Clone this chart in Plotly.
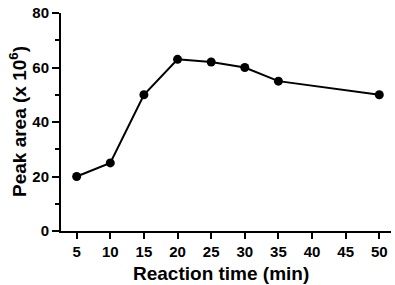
import plotly.graph_objects as go

reaction_time = [5, 10, 15, 20, 25, 30, 35, 50]
peak_area = [20, 25, 50, 63, 62, 60, 55, 50]
x_ticks = [5, 10, 15, 20, 25, 30, 35, 40, 45, 50]
y_ticks = [0, 20, 40, 60, 80]

fig = go.Figure()
fig.add_trace(go.Scatter(
    x=reaction_time, y=peak_area, mode="lines+markers",
    line=dict(color="black", width=2),
    marker=dict(color="black", size=9),
    showlegend=False,
))

font_family = "Liberation Sans, Arial, sans-serif"
fig.update_layout(
    width=395, height=285,
    margin=dict(l=61, r=4, t=11, b=54),
    paper_bgcolor="white", plot_bgcolor="white",
    font=dict(family=font_family, color="black"),
    xaxis=dict(
        range=[2.67, 51.74], tickvals=x_ticks, ticktext=[str(v) for v in x_ticks],
        showgrid=False, zeroline=False, showline=True, linecolor="black", linewidth=2,
        ticks="outside", ticklen=6, tickwidth=2, tickcolor="black",
        tickfont=dict(size=15, family=font_family, weight="bold"),
    ),
    yaxis=dict(
        range=[0, 80], tickvals=y_ticks, ticktext=[str(v) for v in y_ticks],
        showgrid=False, zeroline=False, showline=True, linecolor="black", linewidth=2,
        ticks="outside", ticklen=7, tickwidth=2, tickcolor="black",
        tickfont=dict(size=15, family=font_family, weight="bold"),
        minor=dict(ticks="outside", ticklen=4, tickwidth=2, tickcolor="black", dtick=10, tick0=0, showgrid=False),
    ),
    annotations=[
        dict(text="<b>Reaction time (min)</b>", xref="paper", yref="paper",
             x=0.485, y=0, yshift=-30, xanchor="center", yanchor="top",
             showarrow=False, font=dict(size=19, family=font_family)),
        dict(text="<b>Peak area (x 10<sup>6</sup>)</b>", xref="paper", yref="paper",
             x=0, xshift=-57, y=0.5, xanchor="left", yanchor="middle", textangle=-90,
             showarrow=False, font=dict(size=19, family=font_family)),
    ],
)

fig.write_html("out.html", config={"displayModeBar": False},
               post_script="document.body.style.margin='0';")
